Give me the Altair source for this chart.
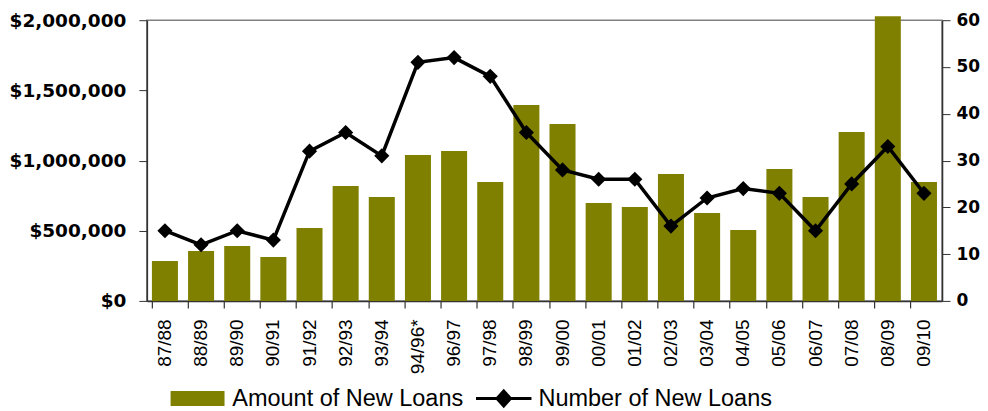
import altair as alt
import pandas as pd

periods = ["87/88", "88/89", "89/90", "90/91", "91/92", "92/93", "93/94", "94/96*",
           "96/97", "97/98", "98/99", "99/00", "00/01", "01/02", "02/03", "03/04",
           "04/05", "05/06", "06/07", "07/08", "08/09", "09/10"]
amounts = [285000, 356000, 391000, 313000, 520000, 819000, 740000, 1039000,
           1068000, 847000, 1395000, 1260000, 698000, 669000, 904000, 626000,
           505000, 940000, 740000, 1203000, 2028000, 847000]
counts = [15, 12, 15, 13, 32, 36, 31, 51, 52, 48, 36, 28, 26, 26, 16, 22, 24, 23,
          15, 25, 33, 23]
left_ticks = [0, 500000, 1000000, 1500000, 2000000]
right_ticks = [0, 10, 20, 30, 40, 50, 60]
name_amount = "Amount of New Loans"
name_count = "Number of New Loans"

df = pd.DataFrame({"period": periods, "amount": amounts, "count": counts,
                   "s1": name_amount, "s2": name_count})

OLIVE = "#808000"
AX_FONT = "DejaVu Sans"
TXT_FONT = "Liberation Sans"

base = alt.Chart(df).encode(
    x=alt.X("period:N", sort=periods,
            scale=alt.Scale(paddingInner=0.28, paddingOuter=0.14),
            axis=alt.Axis(title=None, labelAngle=270, bandPosition=0,
                          labelFont=TXT_FONT, labelFontSize=19, labelColor="black",
                          labelPadding=11, tickSize=7, tickColor="#333",
                          domainColor="#333", domainWidth=1.5, tickWidth=1.2,
                          grid=False))
)

bars = base.mark_bar().encode(
    y=alt.Y("amount:Q", scale=alt.Scale(domain=[0, 2000000], nice=False),
            axis=alt.Axis(title=None, orient="left", values=left_ticks, format="$,.0f",
                          labelFont=AX_FONT, labelFontWeight="bold", labelFontSize=18.5,
                          labelColor="black", tickSize=8, labelPadding=13,
                          tickColor="#333", domainColor="#333", domainWidth=1.5,
                          grid=False, minExtent=138, maxExtent=138)),
    color=alt.Color("s1:N", scale=alt.Scale(domain=[name_amount], range=[OLIVE]),
                    legend=alt.Legend(orient="none", legendX=39, legendY=367, title=None,
                                      symbolType="M-3.6,-1H3.6V1H-3.6Z",
                                      symbolSize=225, symbolStrokeWidth=0,
                                      labelFont=TXT_FONT, labelFontSize=23.5,
                                      labelColor="black", labelOffset=23,
                                      labelLimit=400)),
)

line = base.mark_line(color="black", strokeWidth=3.5).encode(
    y=alt.Y("count:Q", scale=alt.Scale(domain=[0, 60], nice=False),
            axis=alt.Axis(title=None, orient="right", values=right_ticks,
                          labelFont=AX_FONT, labelFontWeight="bold", labelFontSize=17,
                          labelColor="black", tickSize=8, labelPadding=6,
                          tickColor="#333", domainColor="#333", domainWidth=1.5,
                          grid=False)),
)

points = base.mark_point(filled=True, shape="diamond", size=230, opacity=1).encode(
    y=alt.Y("count:Q", scale=alt.Scale(domain=[0, 60], nice=False), axis=None),
    fill=alt.Fill("s2:N", scale=alt.Scale(domain=[name_count], range=["black"]),
                  legend=alt.Legend(orient="none", legendX=345.5, legendY=367, title=None,
                                    symbolType="M-3.7,0H3.7M-0.9,0L0,-1L0.9,0L0,1Z",
                                    symbolSize=225, symbolStrokeColor="black",
                                    symbolStrokeWidth=3,
                                    labelFont=TXT_FONT, labelFontSize=23.5,
                                    labelColor="black", labelOffset=23,
                                    labelLimit=400)),
)

chart = alt.layer(bars, line, points).resolve_scale(
    y="independent", color="independent", fill="independent"
).properties(
    width=796, height=281,
    padding={"left": 0, "top": 3, "right": 0, "bottom": 0},
).configure_view(stroke="#808080", strokeWidth=1.5)

chart.save("out.html", embed_options={"renderer": "svg", "actions": False})
